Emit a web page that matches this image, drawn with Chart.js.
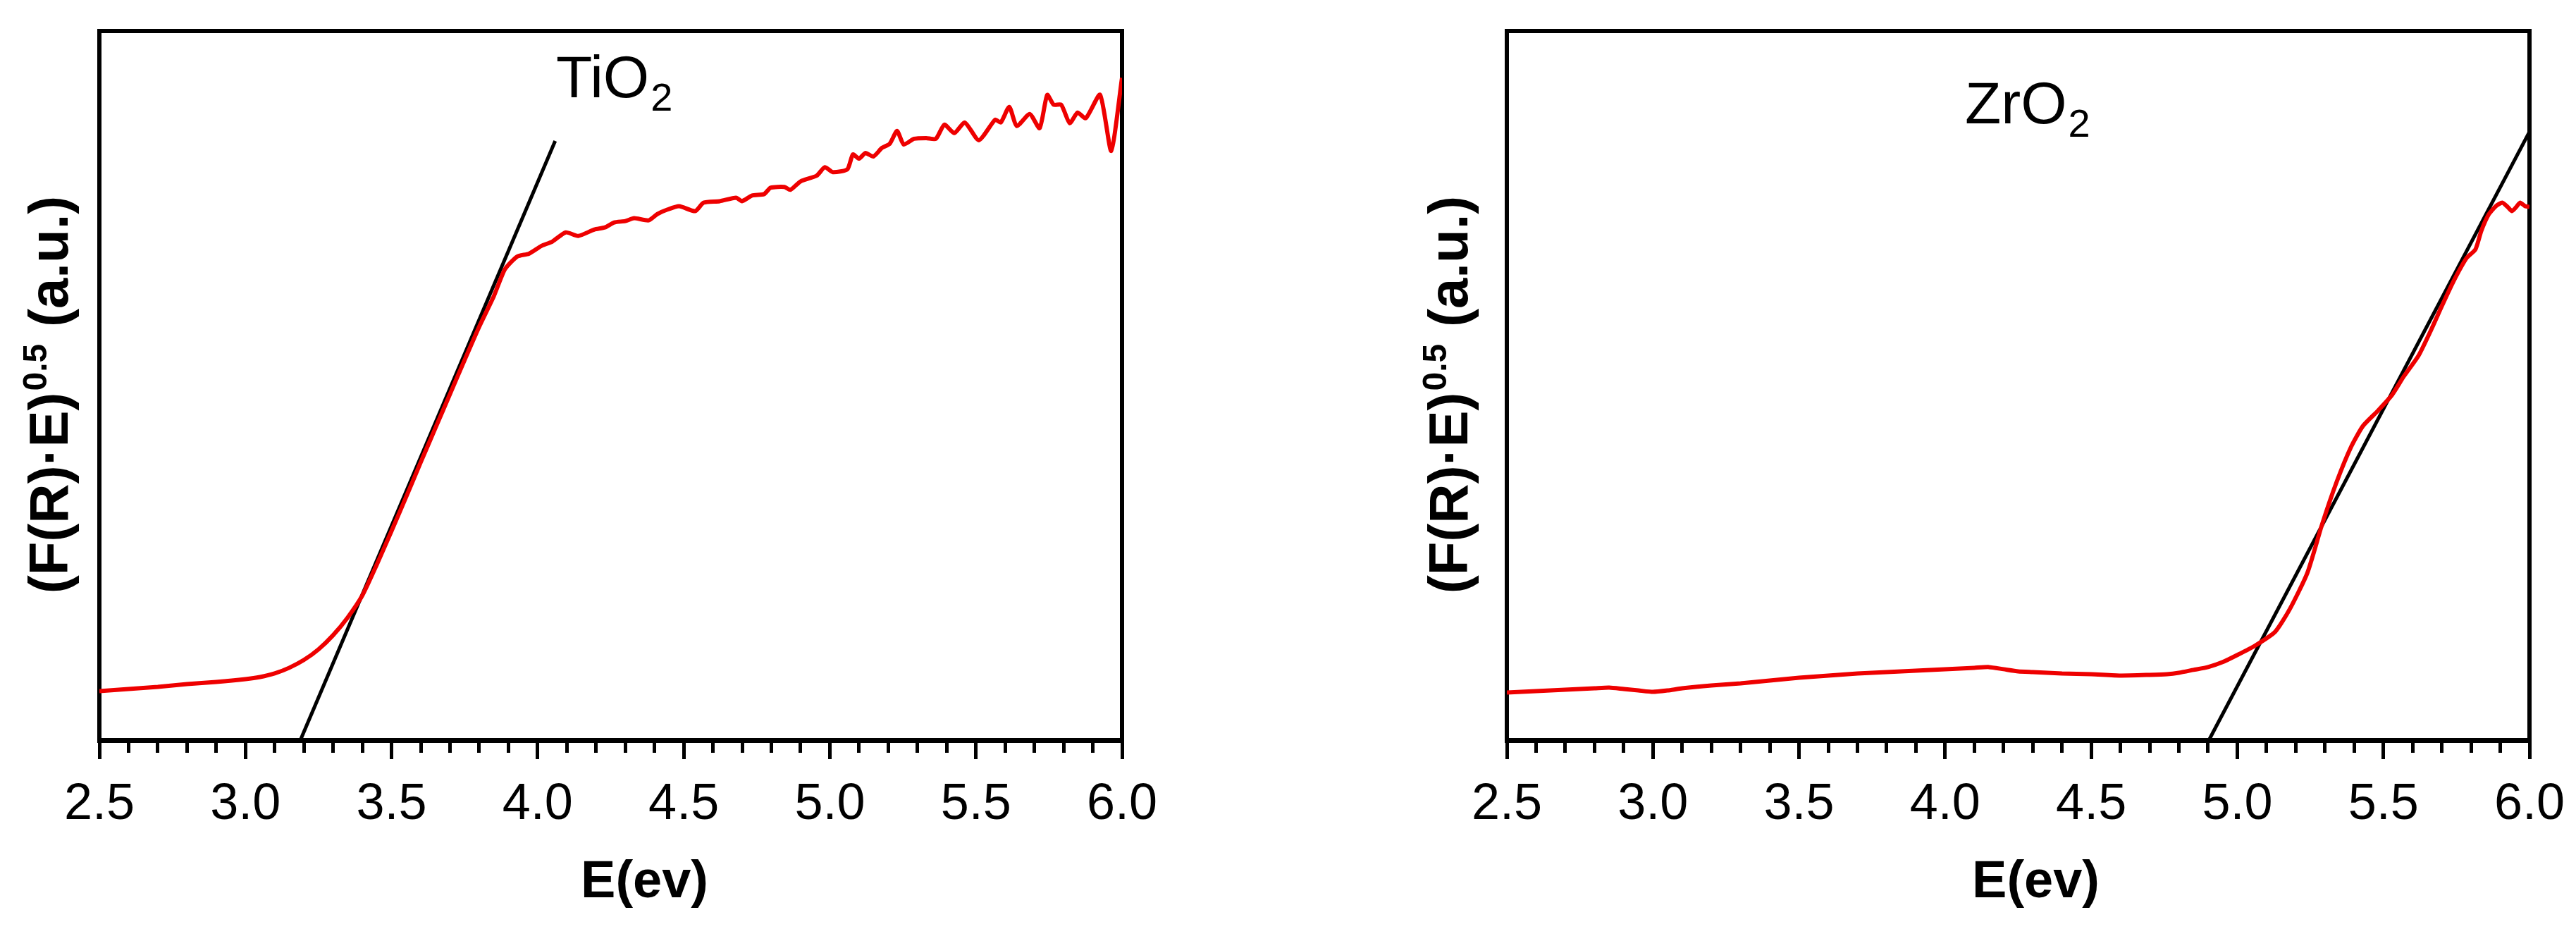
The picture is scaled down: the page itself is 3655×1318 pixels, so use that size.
<!DOCTYPE html>
<html>
<head>
<meta charset="utf-8">
<script src="https://cdn.jsdelivr.net/npm/chart.js@4.4.0/dist/chart.umd.min.js"></script>
<style>
  html, body { margin: 0; padding: 0; background: #fff; }
  body { width: 3655px; height: 1318px; position: relative; overflow: hidden; }
  #boxTi { position: absolute; left: 0; top: 0; width: 1700px; height: 1318px; }
  #boxZr { position: absolute; left: 1900px; top: 0; width: 1755px; height: 1318px; }
</style>
</head>
<body>
<div id="boxTi"><canvas id="grafTi" width="1700" height="1318"></canvas></div>
<div id="boxZr"><canvas id="grafZr" width="1755" height="1318"></canvas></div>
<script>
// TiO2 spectrum (energy in eV, intensity in arbitrary units 0-100)
var tiE = [2.5, 2.6, 2.7, 2.8, 2.9, 3.0, 3.05, 3.1, 3.15, 3.2, 3.25, 3.3, 3.35, 3.4, 3.45, 3.5, 3.55, 3.6, 3.65, 3.7,
    3.75, 3.8, 3.85, 3.888, 3.93, 3.97, 4.013, 4.05, 4.096, 4.139, 4.194, 4.23, 4.262, 4.3, 4.33, 4.38, 4.41, 4.443,
    4.484, 4.539, 4.568, 4.623, 4.679, 4.699, 4.734, 4.775, 4.797, 4.845, 4.865, 4.9, 4.955, 4.983, 5.01, 5.06, 5.079,
    5.1, 5.122, 5.149, 5.178, 5.205, 5.23, 5.253, 5.288, 5.33, 5.363, 5.392, 5.426, 5.462, 5.51, 5.566, 5.585, 5.614,
    5.64, 5.684, 5.718, 5.744, 5.766, 5.792, 5.821, 5.848, 5.876, 5.925, 5.963, 6.0];
var tiVal = [6.9, 7.2, 7.5, 7.9, 8.2, 8.6, 8.9, 9.4, 10.2, 11.3, 12.8, 14.8, 17.3, 20.4, 24.8, 29.5, 34.3, 39.2, 44.0, 48.8,
    53.6, 58.3, 62.6, 66.4, 68.2, 68.6, 69.7, 70.3, 71.6, 71.1, 72.0, 72.3, 73.0, 73.2, 73.6, 73.3, 74.2, 74.8,
    75.3, 74.6, 75.8, 76.0, 76.5, 76.0, 76.8, 77.0, 77.9, 78.0, 77.6, 78.8, 79.6, 80.8, 80.1, 80.5, 82.6,
    82.0, 82.8, 82.3, 83.5, 84.1, 85.9, 84.0, 84.8, 84.9, 84.8, 86.8, 85.6, 87.1, 84.6, 87.5, 87.1, 89.3,
    86.6, 88.3, 86.3, 91.0, 89.6, 89.6, 87.0, 88.5, 87.7, 91.0, 83.1, 93.4];
var tiFitE = [3.188, 4.06];
var tiFitVal = [0, 84.5];

// ZrO2 spectrum
var zrE = [2.5, 2.6, 2.7, 2.8, 2.85, 2.9, 2.95, 3.0, 3.05, 3.1, 3.2, 3.3, 3.4, 3.5, 3.6, 3.7, 3.8, 3.9, 4.0, 4.1, 4.15,
    4.2, 4.25, 4.3, 4.4, 4.5, 4.6, 4.7, 4.76, 4.8, 4.85, 4.9, 4.95, 5.0, 5.06, 5.13, 5.18, 5.24, 5.29, 5.34, 5.39, 5.43,
    5.48, 5.53, 5.57, 5.62, 5.665, 5.7, 5.74, 5.785, 5.815, 5.835, 5.86, 5.885, 5.907, 5.925, 5.94, 5.955, 5.968,
    5.985, 6.0];
var zrVal = [6.7, 6.9, 7.1, 7.3, 7.4, 7.2, 7.0, 6.8, 7.0, 7.3, 7.7, 8.0, 8.4, 8.8, 9.1, 9.4, 9.6, 9.8, 10.0, 10.2, 10.3,
    10.0, 9.7, 9.6, 9.4, 9.3, 9.1, 9.2, 9.3, 9.5, 9.9, 10.3, 11.0, 12.0, 13.3, 15.3, 18.5, 23.6, 30.4, 36.4, 41.4, 44.3,
    46.4, 48.7, 51.3, 54.2, 58.0, 61.2, 64.7, 68.0, 69.2, 71.8, 74.1, 75.3, 75.8, 75.2, 74.6, 75.2, 75.8,
    75.3, 75.2];
var zrFitE = [4.903, 6.0];
var zrFitVal = [0, 85.8];

var xTicksMajor = 0.5;
var xTicksMinor = 0.1;
var yTitle = ['(F(R)\u00b7E)', '0.5', ' (a.u.)'];
var xTitle = 'E(ev)';

var fam = '"Liberation Sans", Arial, Helvetica, sans-serif';

function pts(xs, ys) {
    return xs.map(function (x, i) { return { x: x, y: ys[i] }; });
}

// frame round the plot, sample name, axis titles (with superscript)
var decor = {
    id: 'decor',
    beforeDatasetsDraw: function (chart) {
        var a = chart.chartArea, ctx = chart.ctx;
        ctx.save();
        ctx.strokeStyle = '#000';
        ctx.lineWidth = 6;
        ctx.strokeRect(a.left, a.top, a.right - a.left, a.bottom - a.top);
        ctx.restore();
    },
    afterDraw: function (chart, args, o) {
        var ctx = chart.ctx, a = chart.chartArea;
        ctx.save();
        ctx.fillStyle = '#000';
        ctx.textBaseline = 'alphabetic';
        ctx.textAlign = 'left';

        // sample name with subscript 2
        ctx.font = '84px ' + fam;
        ctx.fillText(o.name, o.nameX, o.nameY);
        var w = ctx.measureText(o.name).width;
        ctx.font = '56px ' + fam;
        ctx.fillText('2', o.nameX + w + 2, o.nameY + 19);

        // x title
        ctx.font = 'bold 74px ' + fam;
        ctx.textAlign = 'center';
        ctx.fillText(xTitle, (a.left + a.right) / 2 + o.xTitleDX, o.xTitleY);

        // y title, rotated, with superscript
        var big = 'bold 78px ' + fam, small = 'bold 48px ' + fam;
        ctx.textAlign = 'left';
        ctx.font = big;
        var w1 = ctx.measureText(yTitle[0]).width;
        var w3 = ctx.measureText(yTitle[2]).width;
        ctx.font = small;
        var w2 = ctx.measureText(yTitle[1]).width + 4;
        var total = w1 + w2 + w3;
        ctx.translate(o.yTitleX, o.yTitleY);
        ctx.rotate(-Math.PI / 2);
        var sx = -total / 2, base = 28;
        ctx.font = big;
        ctx.fillText(yTitle[0], sx, base);
        ctx.font = small;
        ctx.fillText(yTitle[1], sx + w1 + 2, base - 30);
        ctx.font = big;
        ctx.fillText(yTitle[2], sx + w1 + w2, base);
        ctx.restore();
    }
};

function makeChart(id, curveE, curveVal, fitE, fitVal, leftW, padRight, text) {
    var ctx = document.getElementById(id).getContext('2d');
    return new Chart(ctx, {
        type: 'line',
        data: {
            datasets: [{
                data: pts(curveE, curveVal),
                borderColor: '#ee0000',
                borderWidth: 6,
                pointRadius: 0,
                tension: 0.2
            }, {
                data: pts(fitE, fitVal),
                borderColor: '#000',
                borderWidth: 5,
                pointRadius: 0
            }]
        },
        options: {
            responsive: false,
            animation: false,
            devicePixelRatio: 1,
            layout: { padding: { top: 44, right: padRight, left: 0, bottom: 0 } },
            plugins: { legend: { display: false }, tooltip: { enabled: false }, decor: text },
            scales: {
                x: {
                    type: 'linear', position: 'bottom', min: 2.5, max: 6.0, weight: 1,
                    ticks: {
                        stepSize: xTicksMajor, padding: 22, color: '#000', autoSkip: false, maxRotation: 0,
                        font: { size: 72, family: fam },
                        callback: function (v) { return v.toFixed(1); }
                    },
                    grid: { drawOnChartArea: false, tickLength: 27, tickWidth: 5, tickColor: '#000' },
                    border: { display: true, width: 7, color: '#000' },
                    afterFit: function (s) { s.height = 268; s.paddingLeft = 0; s.paddingRight = 0; }
                },
                xMinor: {
                    type: 'linear', position: 'bottom', min: 2.5, max: 6.0, weight: 0,
                    ticks: { stepSize: xTicksMinor, autoSkip: false, maxRotation: 0, callback: function () { return ''; } },
                    grid: { drawOnChartArea: false, tickLength: 18, tickWidth: 5, tickColor: '#000' },
                    border: { display: false },
                    afterFit: function (s) { s.height = 0; s.paddingLeft = 0; s.paddingRight = 0; }
                },
                y: {
                    min: 0, max: 100,
                    ticks: { display: false },
                    grid: { display: false },
                    border: { display: false },
                    afterFit: function (s) { s.width = leftW; }
                }
            }
        },
        plugins: [decor]
    });
}

makeChart('grafTi', tiE, tiVal, tiFitE, tiFitVal, 141, 108,
    { name: 'TiO', nameX: 789, nameY: 138, xTitleDX: 48, xTitleY: 1273, yTitleX: 68, yTitleY: 560 });
makeChart('grafZr', zrE, zrVal, zrFitE, zrFitVal, 238, 66,
    { name: 'ZrO', nameX: 888, nameY: 175, xTitleDX: 25, xTitleY: 1273, yTitleX: 154, yTitleY: 560 });
</script>
</body>
</html>
